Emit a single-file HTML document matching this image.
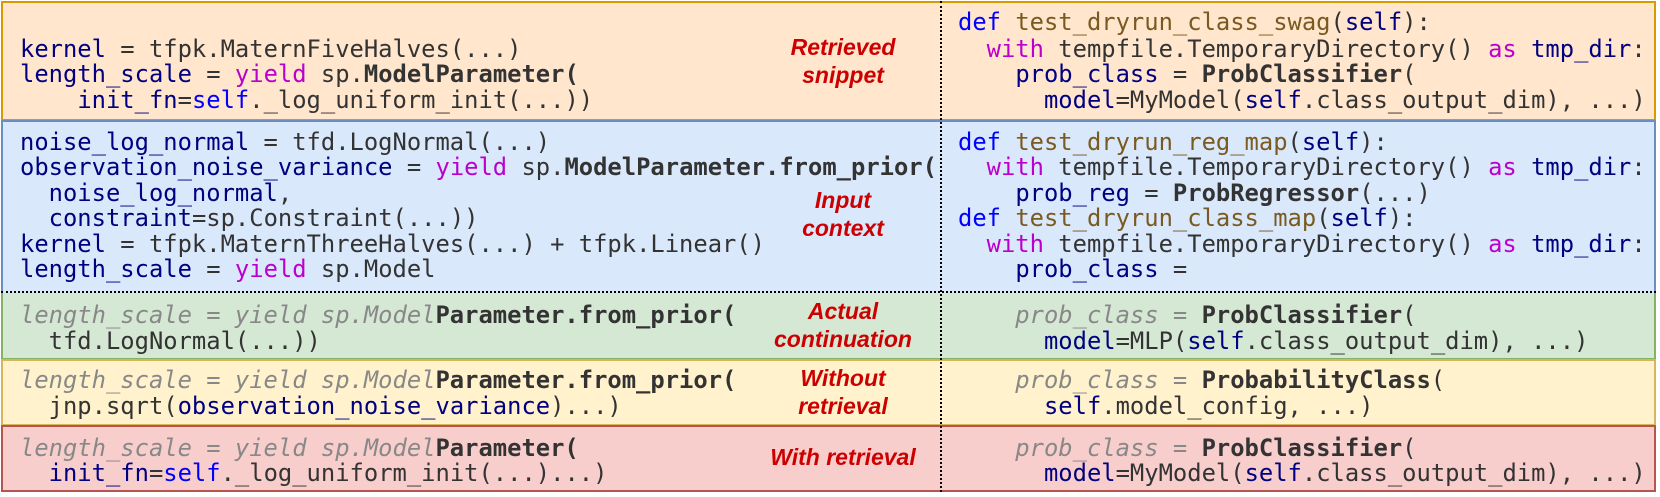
<!DOCTYPE html>
<html><head><meta charset="utf-8"><style>
body{margin:0;width:1660px;height:497px;background:#fff;position:relative;overflow:hidden}
.box{position:absolute;left:1px;width:1655px;box-sizing:border-box}
.l{position:absolute;white-space:pre;font-family:"DejaVu Sans Mono","Liberation Mono",monospace;font-size:23.8px;line-height:26px;height:26px;color:#333}
.lab{position:absolute;left:733px;width:220px;text-align:center;font-family:"Liberation Sans",sans-serif;font-weight:bold;font-style:italic;font-size:23px;line-height:28px;color:#cc0000}
.n{color:#000080}.k{color:#0000ff}.m{color:#bb00cc}.f{color:#7a5a20}.b{font-weight:bold;color:#333}.g{color:#888;font-style:italic}
</style></head><body>
<div class="box" style="top:1px;height:120px;background:#ffe6cc;border:2px solid #d79b00"></div>
<div class="box" style="top:120px;height:173px;background:#dae8fc;border:2px solid #6c8ebf;border-bottom:none"></div>
<div class="box" style="top:293px;height:67px;background:#d5e8d4;border:2px solid #82b366;border-top:none"></div>
<div class="box" style="top:359px;height:67px;background:#fff2cc;border:2px solid #d6b656"></div>
<div class="box" style="top:425px;height:67px;background:#f8cecc;border:2px solid #b85450"></div>
<div style="position:absolute;left:1px;width:1655px;top:291px;border-top:2px dotted #000"></div>
<div style="position:absolute;left:940px;top:1px;height:491px;border-left:2px dotted #000"></div>

<div class="l" style="left:20px;top:36px"><span class="n">kernel</span> = tfpk.MaternFiveHalves(...)</div>
<div class="l" style="left:20px;top:61px"><span class="n">length_scale</span> = <span class="m">yield</span> sp.<span class="b">ModelParameter(</span></div>
<div class="l" style="left:20px;top:87px">    <span class="n">init_fn</span>=<span class="k">self</span>._log_uniform_init(...))</div>

<div class="l" style="left:958px;top:9px"><span class="k">def</span> <span class="f">test_dryrun_class_swag</span>(<span class="n">self</span>):</div>
<div class="l" style="left:958px;top:36px">  <span class="m">with</span> tempfile.TemporaryDirectory() <span class="m">as</span> <span class="n">tmp_dir</span>:</div>
<div class="l" style="left:958px;top:61px">    <span class="n">prob_class</span> = <span class="b">ProbClassifier</span>(</div>
<div class="l" style="left:958px;top:87px">      <span class="n">model</span>=MyModel(<span class="n">self</span>.class_output_dim), ...)</div>

<div class="l" style="left:20px;top:129px"><span class="n">noise_log_normal</span> = tfd.LogNormal(...)</div>
<div class="l" style="left:20px;top:154px"><span class="n">observation_noise_variance</span> = <span class="m">yield</span> sp.<span class="b">ModelParameter.from_prior(</span></div>
<div class="l" style="left:20px;top:180px">  <span class="n">noise_log_normal</span>,</div>
<div class="l" style="left:20px;top:205px">  <span class="n">constraint</span>=sp.Constraint(...))</div>
<div class="l" style="left:20px;top:231px"><span class="n">kernel</span> = tfpk.MaternThreeHalves(...) + tfpk.Linear()</div>
<div class="l" style="left:20px;top:256px"><span class="n">length_scale</span> = <span class="m">yield</span> sp.Model</div>

<div class="l" style="left:958px;top:129px"><span class="k">def</span> <span class="f">test_dryrun_reg_map</span>(<span class="n">self</span>):</div>
<div class="l" style="left:958px;top:154px">  <span class="m">with</span> tempfile.TemporaryDirectory() <span class="m">as</span> <span class="n">tmp_dir</span>:</div>
<div class="l" style="left:958px;top:180px">    <span class="n">prob_reg</span> = <span class="b">ProbRegressor</span>(...)</div>
<div class="l" style="left:958px;top:205px"><span class="k">def</span> <span class="f">test_dryrun_class_map</span>(<span class="n">self</span>):</div>
<div class="l" style="left:958px;top:231px">  <span class="m">with</span> tempfile.TemporaryDirectory() <span class="m">as</span> <span class="n">tmp_dir</span>:</div>
<div class="l" style="left:958px;top:256px">    <span class="n">prob_class</span> =</div>

<div class="l" style="left:20px;top:302px"><span class="g">length_scale = yield sp.Model</span><span class="b">Parameter.from_prior(</span></div>
<div class="l" style="left:20px;top:328px">  tfd.LogNormal(...))</div>
<div class="l" style="left:958px;top:302px"><span class="g">    prob_class = </span><span class="b">ProbClassifier</span>(</div>
<div class="l" style="left:958px;top:328px">      <span class="n">model</span>=MLP(<span class="n">self</span>.class_output_dim), ...)</div>

<div class="l" style="left:20px;top:367px"><span class="g">length_scale = yield sp.Model</span><span class="b">Parameter.from_prior(</span></div>
<div class="l" style="left:20px;top:393px">  jnp.sqrt(<span class="n">observation_noise_variance</span>)...)</div>
<div class="l" style="left:958px;top:367px"><span class="g">    prob_class = </span><span class="b">ProbabilityClass</span>(</div>
<div class="l" style="left:958px;top:393px">      <span class="n">self</span>.model_config, ...)</div>

<div class="l" style="left:20px;top:435px"><span class="g">length_scale = yield sp.Model</span><span class="b">Parameter(</span></div>
<div class="l" style="left:20px;top:460px">  <span class="n">init_fn</span>=<span class="k">self</span>._log_uniform_init(...)...)</div>
<div class="l" style="left:958px;top:435px"><span class="g">    prob_class = </span><span class="b">ProbClassifier</span>(</div>
<div class="l" style="left:958px;top:460px">      <span class="n">model</span>=MyModel(<span class="n">self</span>.class_output_dim), ...)</div>

<div class="lab" style="top:33px">Retrieved<br>snippet</div>
<div class="lab" style="top:186px">Input<br>context</div>
<div class="lab" style="top:297px">Actual<br>continuation</div>
<div class="lab" style="top:364px">Without<br>retrieval</div>
<div class="lab" style="top:443px">With retrieval</div>
</body></html>
